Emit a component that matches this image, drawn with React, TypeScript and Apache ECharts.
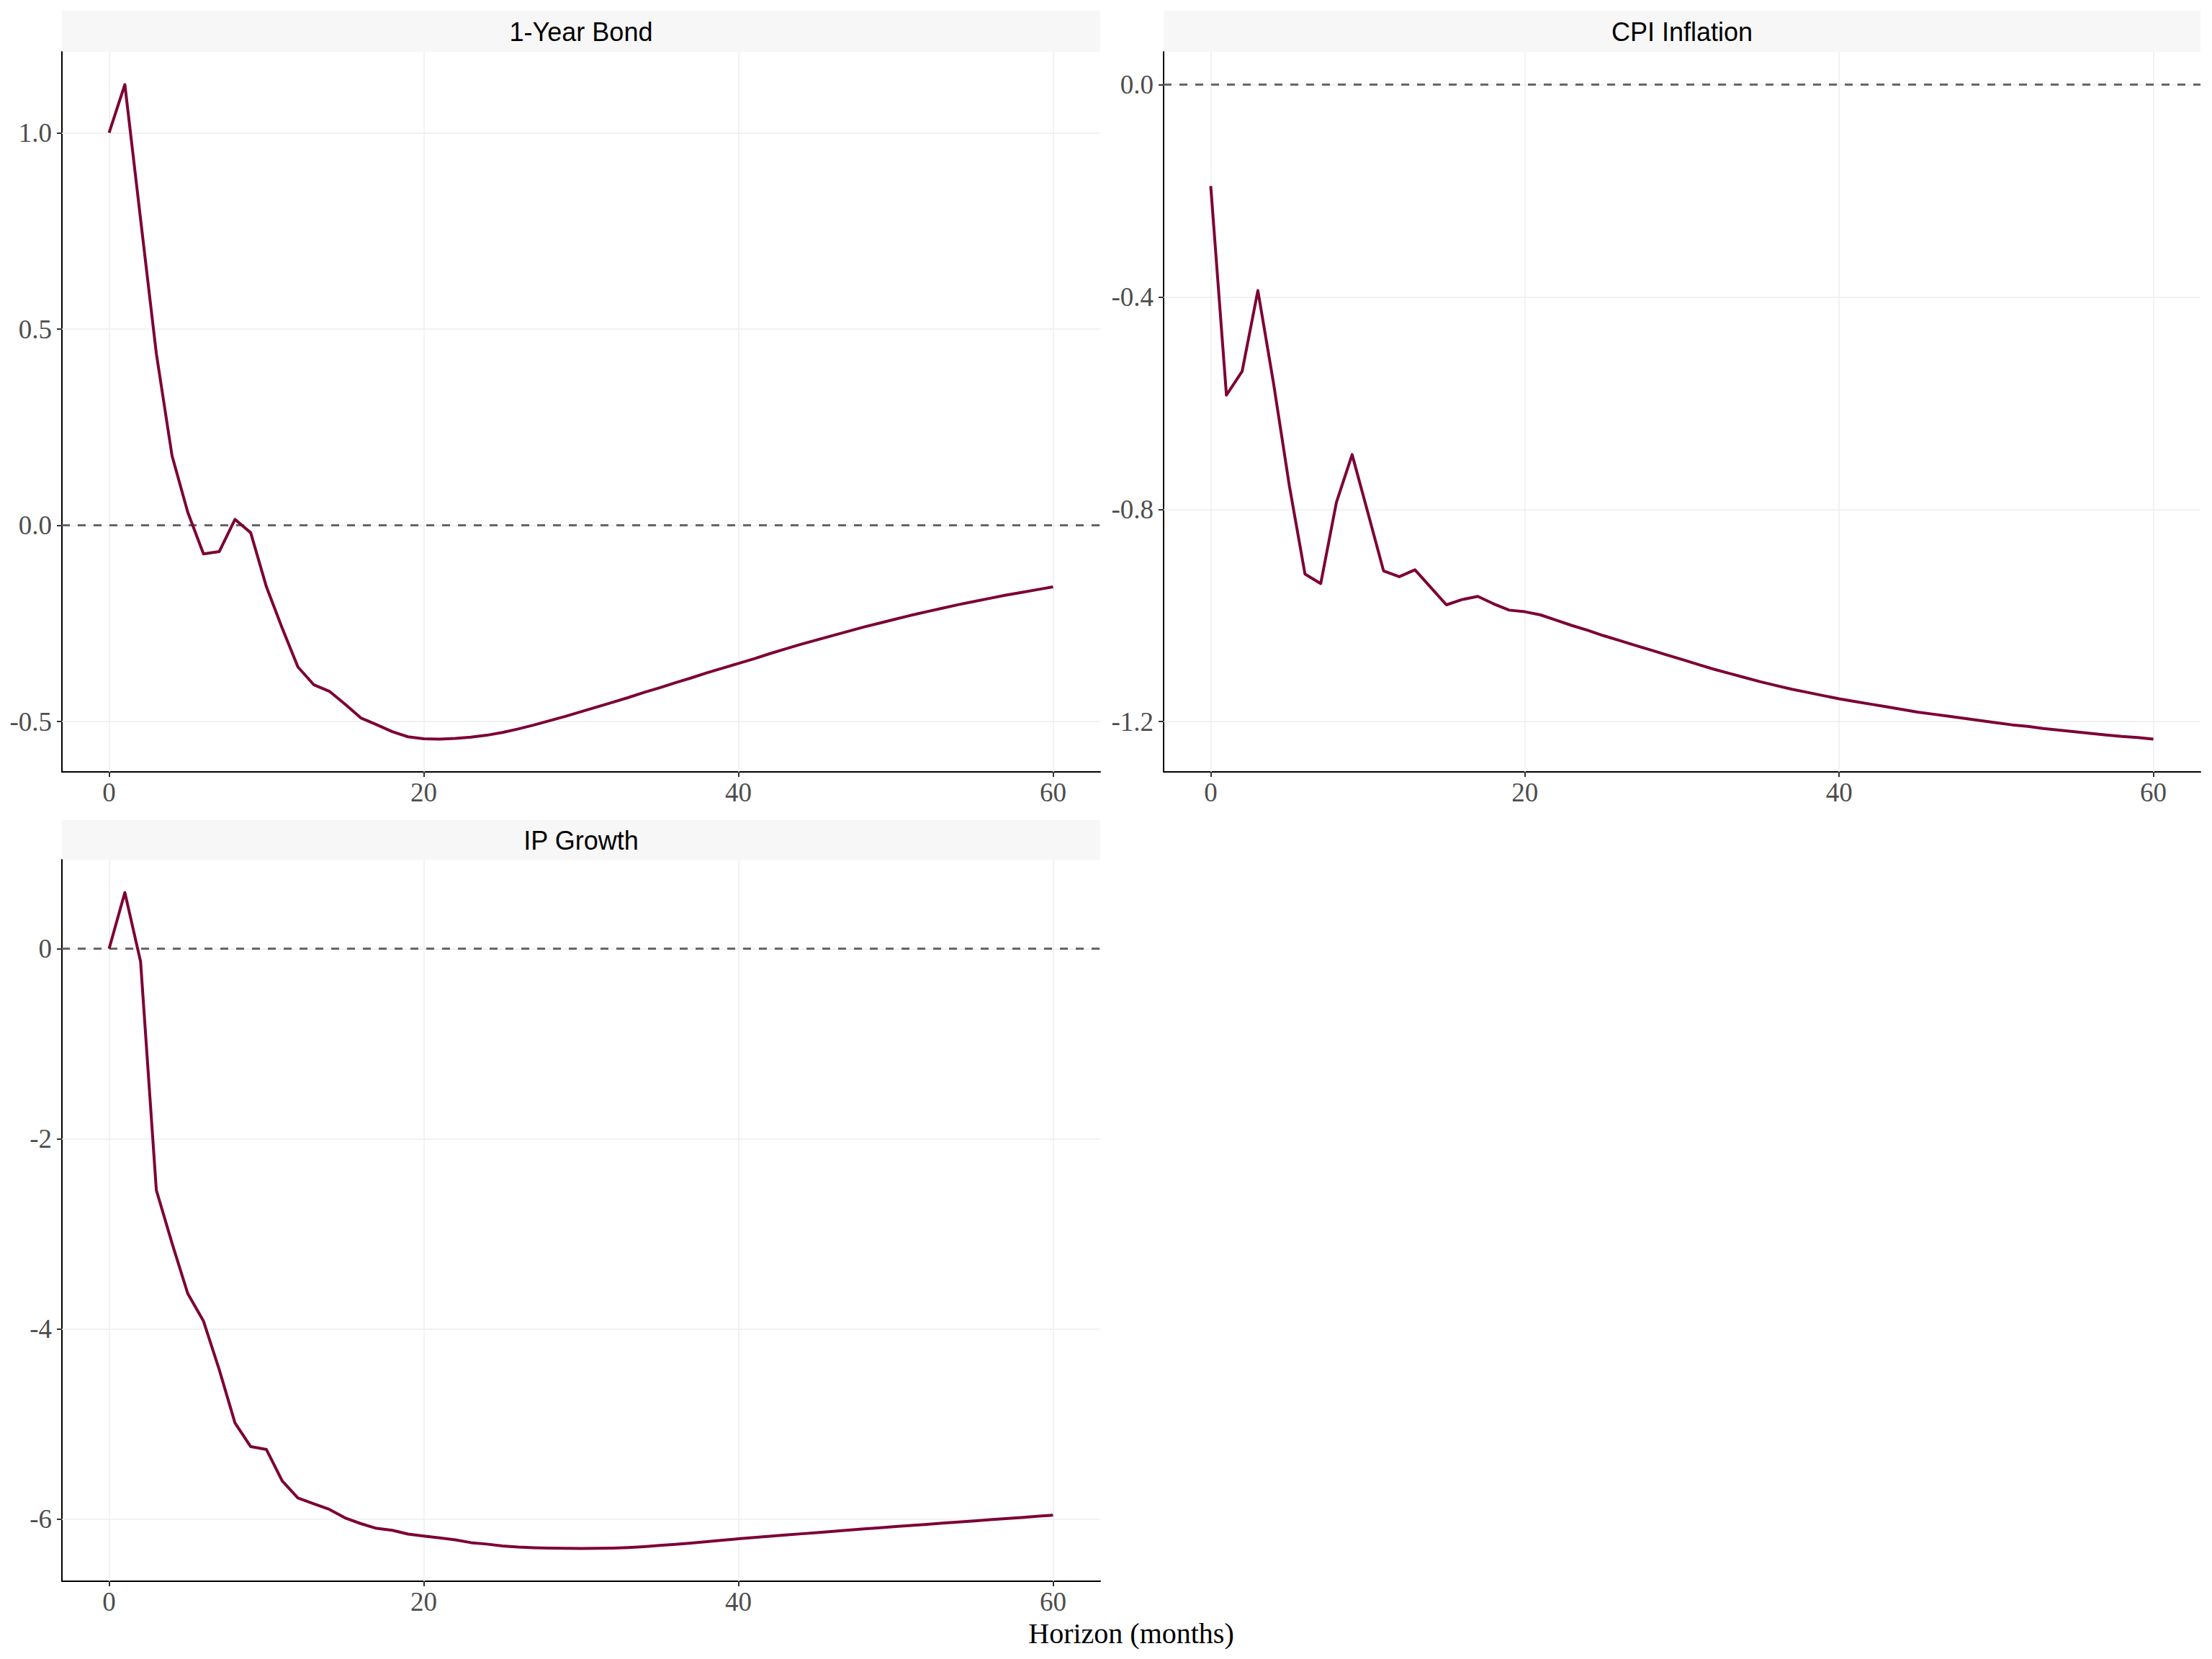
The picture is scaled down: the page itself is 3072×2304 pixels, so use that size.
import React, { useEffect, useRef } from "react";
import * as echarts from "echarts";

// Horizons (months)
const horizons: number[] = Array.from({ length: 61 }, (_, i) => i);

// Impulse responses
const bondValues: number[] = [
  1.0, 1.123, 0.78, 0.438, 0.177, 0.033, -0.073, -0.067, 0.015, -0.019,
  -0.157, -0.262, -0.361, -0.406, -0.423, -0.456, -0.491, -0.508, -0.526, -0.539,
  -0.544, -0.545, -0.543, -0.54, -0.535, -0.528, -0.519, -0.509, -0.498, -0.487,
  -0.475, -0.463, -0.451, -0.439, -0.426, -0.414, -0.401, -0.389, -0.376, -0.364,
  -0.352, -0.34, -0.327, -0.315, -0.303, -0.292, -0.281, -0.27, -0.259, -0.249,
  -0.239, -0.229, -0.22, -0.211, -0.202, -0.194, -0.186, -0.178, -0.171, -0.164,
  -0.157,
];

const cpiValues: number[] = [
  -0.191, -0.585, -0.54, -0.388, -0.563, -0.755, -0.922, -0.94, -0.787, -0.697,
  -0.806, -0.916, -0.927, -0.914, -0.947, -0.98, -0.97, -0.964, -0.978, -0.99,
  -0.993, -0.999, -1.009, -1.019, -1.028, -1.038, -1.047, -1.056, -1.065, -1.074,
  -1.083, -1.092, -1.101, -1.109, -1.117, -1.125, -1.132, -1.139, -1.145, -1.151,
  -1.157, -1.162, -1.167, -1.172, -1.177, -1.182, -1.186, -1.19, -1.194, -1.198,
  -1.202, -1.206, -1.209, -1.213, -1.216, -1.219, -1.222, -1.225, -1.228, -1.23,
  -1.233,
];

const ipValues: number[] = [
  0, 0.59, -0.137, -2.54, -3.1, -3.63, -3.92, -4.43, -4.99, -5.24,
  -5.27, -5.6, -5.78, -5.84, -5.9, -5.99, -6.05, -6.1, -6.12, -6.16,
  -6.18, -6.2, -6.22, -6.25, -6.265, -6.285, -6.296, -6.303, -6.308, -6.31,
  -6.311, -6.31, -6.307, -6.301, -6.292, -6.28, -6.268, -6.255, -6.24, -6.225,
  -6.209, -6.196, -6.183, -6.17, -6.157, -6.144, -6.131, -6.118, -6.105, -6.093,
  -6.081, -6.069, -6.057, -6.045, -6.033, -6.021, -6.009, -5.997, -5.985, -5.973,
  -5.961,
];

const panelTitles: string[] = ["1-Year Bond", "CPI Inflation", "IP Growth"];
const xTicks: number[] = [0, 20, 40, 60];
const bondTicks: number[] = [-0.5, 0, 0.5, 1.0];
const cpiTicks: number[] = [-1.2, -0.8, -0.4, 0];
const ipTicks: number[] = [-6, -4, -2, 0];
const xAxisTitle = "Horizon (months)";

const LINE_COLOR = "#7d0034";
const GRID_COLOR = "#eeeeee";

const grids = [
  { left: 86, top: 72, width: 1442, height: 1000 },
  { left: 1616, top: 72, width: 1440, height: 1000 },
  { left: 86, top: 1194, width: 1442, height: 1002 },
];
const strips = [
  { x: 86, y: 15, w: 1442, h: 57 },
  { x: 1616, y: 15, w: 1440, h: 57 },
  { x: 86, y: 1139, w: 1442, h: 55 },
];

function expandRange(values: number[]): [number, number] {
  const lo = Math.min(0, ...values);
  const hi = Math.max(0, ...values);
  const pad = (hi - lo) * 0.05;
  return [lo - pad, hi + pad];
}

export default function App() {
  const ref = useRef<HTMLDivElement>(null);

  useEffect(() => {
    if (!ref.current) return;
    const chart = echarts.init(ref.current, null, { renderer: "svg" });

    const panels = [
      { values: bondValues, ticks: bondTicks, fmt: (v: number) => v.toFixed(1) },
      { values: cpiValues, ticks: cpiTicks, fmt: (v: number) => v.toFixed(1) },
      { values: ipValues, ticks: ipTicks, fmt: (v: number) => String(Math.round(v)) },
    ];

    const tickFont = {
      fontFamily: "Liberation Serif",
      fontSize: 37,
      color: "#4d4d4d",
    };

    const xAxis = panels.map((_, i) => ({
      type: "value",
      gridIndex: i,
      min: -3,
      max: 63,
      axisLine: { show: true, onZero: false, lineStyle: { color: "#000", width: 2 } },
      axisTick: { show: true, customValues: xTicks, length: 7, lineStyle: { color: "#333", width: 2 } },
      axisLabel: { show: true, customValues: xTicks, margin: 10, ...tickFont },
      splitLine: { show: false },
    }));

    const yAxis = panels.map((p, i) => {
      const [mn, mx] = expandRange(p.values);
      return {
        type: "value",
        gridIndex: i,
        min: mn,
        max: mx,
        axisLine: { show: true, onZero: false, lineStyle: { color: "#000", width: 2 } },
        axisTick: { show: true, customValues: p.ticks, length: 7, lineStyle: { color: "#333", width: 2 } },
        axisLabel: {
          show: true,
          customValues: p.ticks,
          margin: 14,
          formatter: (v: number) => p.fmt(v),
          ...tickFont,
        },
        splitLine: { show: false },
      };
    });

    const series: any[] = [];
    panels.forEach((p, i) => {
      series.push({
        type: "line",
        xAxisIndex: i,
        yAxisIndex: i,
        data: [],
        z: 1,
        silent: true,
        markLine: {
          silent: true,
          z: 1,
          symbol: ["none", "none"],
          label: { show: false },
          lineStyle: { color: GRID_COLOR, width: 1.5, type: "solid" },
          emphasis: { disabled: true },
          data: [
            ...xTicks.map((v) => ({ xAxis: v })),
            ...p.ticks.map((v) => ({ yAxis: v })),
          ],
        },
      });
      series.push({
        type: "line",
        xAxisIndex: i,
        yAxisIndex: i,
        data: [],
        z: 2,
        silent: true,
        markLine: {
          silent: true,
          z: 2,
          symbol: ["none", "none"],
          label: { show: false },
          lineStyle: { color: "#666666", width: 3, type: [11, 11] },
          emphasis: { disabled: true },
          data: [{ yAxis: 0 }],
        },
      });
      series.push({
        type: "line",
        name: panelTitles[i],
        xAxisIndex: i,
        yAxisIndex: i,
        z: 10,
        data: horizons.map((h, k) => [h, p.values[k]]),
        showSymbol: false,
        symbol: "none",
        smooth: false,
        lineStyle: { color: LINE_COLOR, width: 4, join: "round" },
        itemStyle: { color: LINE_COLOR },
      });
    });

    const graphic: any[] = [];
    strips.forEach((s, i) => {
      graphic.push({
        type: "rect",
        shape: { x: s.x, y: s.y, width: s.w, height: s.h },
        style: { fill: "#f7f7f7" },
        silent: true,
      });
      graphic.push({
        type: "text",
        x: s.x + s.w / 2,
        y: s.y + s.h / 2 + 1,
        style: {
          text: panelTitles[i],
          fill: "#000",
          fontFamily: "Liberation Sans",
          fontSize: 36,
          align: "center",
          verticalAlign: "middle",
        },
        silent: true,
      });
    });
    graphic.push({
      type: "text",
      x: 1571,
      y: 2268,
      style: {
        text: xAxisTitle,
        fill: "#000",
        fontFamily: "Liberation Serif",
        fontSize: 40,
        align: "center",
        verticalAlign: "middle",
      },
      silent: true,
    });

    chart.setOption({
      animation: false,
      backgroundColor: "#ffffff",
      grid: grids,
      xAxis,
      yAxis,
      series,
      graphic,
    });

    return () => chart.dispose();
  }, []);

  return (
    <div
      ref={ref}
      style={{ position: "absolute", left: 0, top: 0, width: 3072, height: 2304 }}
    />
  );
}
